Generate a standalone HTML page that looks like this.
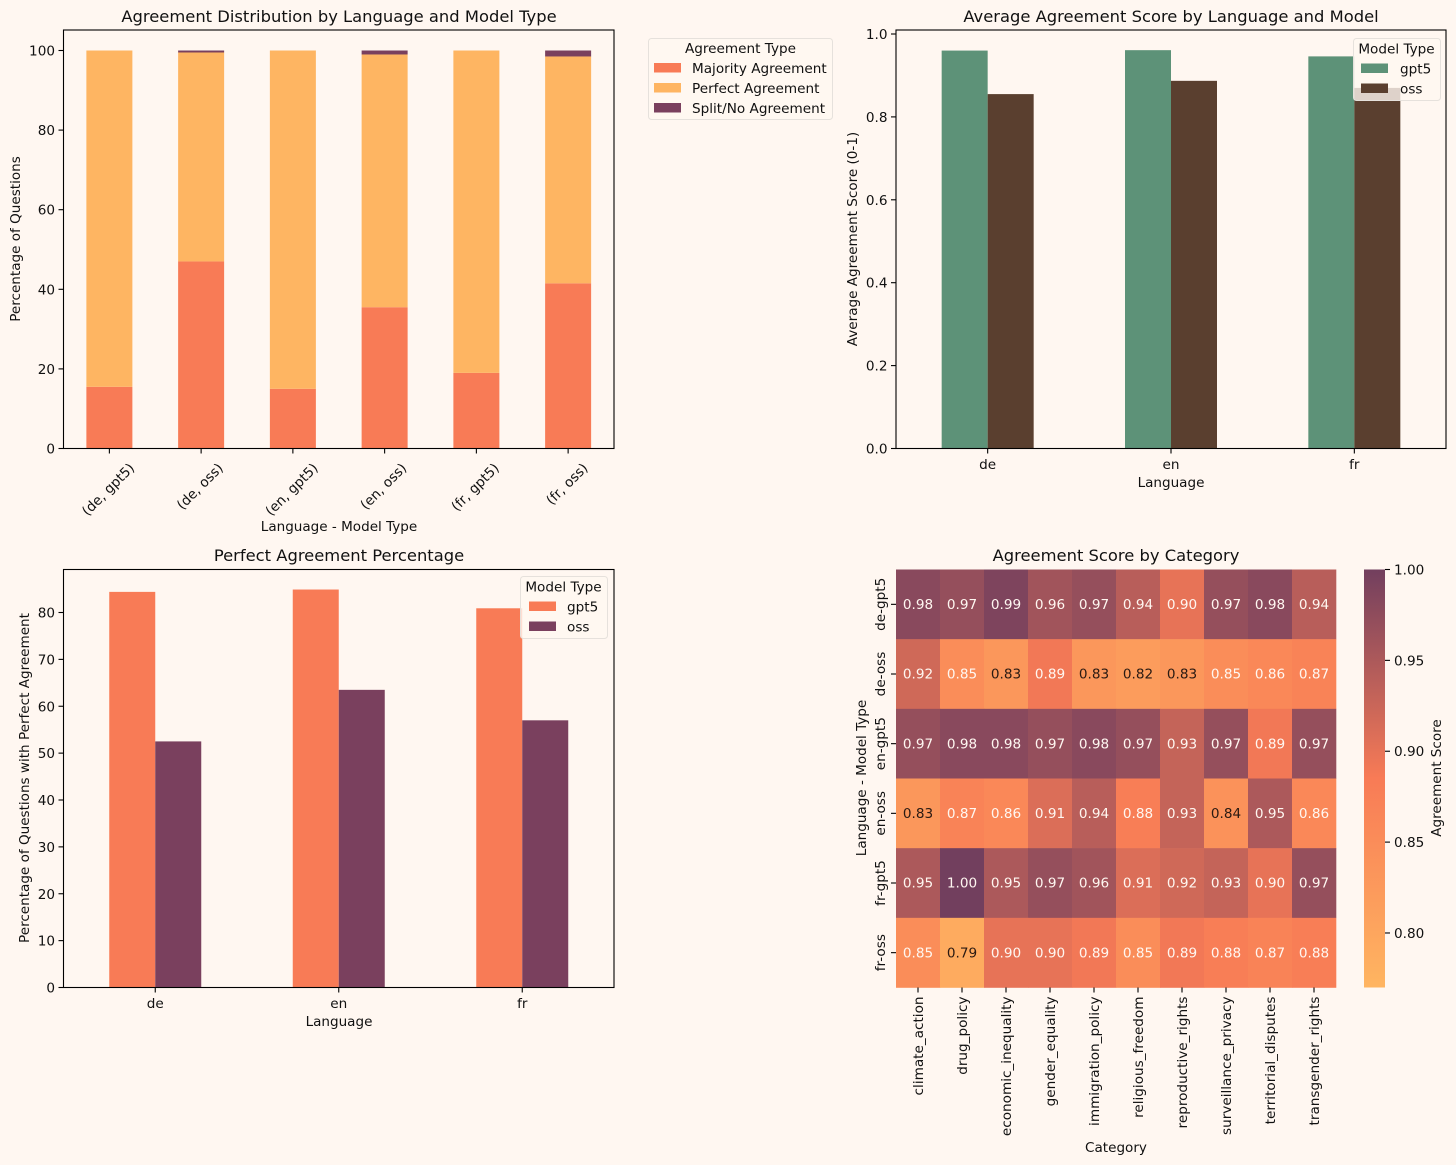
<!DOCTYPE html>
<html lang="en">
<head>
<meta charset="utf-8">
<title>Agreement charts</title>
<style>
html,body{margin:0;padding:0;background:#FFF7F1;}
svg{display:block;}
text{font-family:"DejaVu Sans","Liberation Sans",sans-serif;fill:#111;}
.tick{font-size:13.6px;}
.lab{font-size:13.55px;}
.title{font-size:16.35px;}
.leg{font-size:13.6px;}
.cell{font-size:13.6px;}
</style>
</head>
<body>
<svg id="fig" xmlns="http://www.w3.org/2000/svg" width="1456" height="1165" viewBox="0 0 1456 1165">
  <defs>
    <linearGradient id="cbar-grad" x1="0" y1="1" x2="0" y2="0">
      <stop offset="0" stop-color="#FFB561"/>
      <stop offset="0.5" stop-color="#F87B56"/>
      <stop offset="1" stop-color="#723F5E"/>
    </linearGradient>
  </defs>
  <rect x="0" y="0" width="1456" height="1165" fill="#FFF7F1"/>

  <g id="panel-a"></g>
  <g id="panel-b"></g>
  <g id="panel-c"></g>
  <g id="panel-d"></g>

  <text class="title" x="339" y="22" text-anchor="middle">Agreement Distribution by Language and Model Type</text>
  <text class="lab" x="339" y="531" text-anchor="middle">Language - Model Type</text>
  <text class="lab" text-anchor="middle" transform="translate(20,239) rotate(-90)">Percentage of Questions</text>

  <text class="title" x="1171" y="22" text-anchor="middle">Average Agreement Score by Language and Model</text>
  <text class="lab" x="1171" y="487" text-anchor="middle">Language</text>
  <text class="lab" text-anchor="middle" transform="translate(857,239) rotate(-90)">Average Agreement Score (0-1)</text>

  <text class="title" x="339" y="561" text-anchor="middle">Perfect Agreement Percentage</text>
  <text class="lab" x="339" y="1026" text-anchor="middle">Language</text>
  <text class="lab" text-anchor="middle" transform="translate(29,778) rotate(-90)">Percentage of Questions with Perfect Agreement</text>

  <text class="title" x="1116" y="561" text-anchor="middle">Agreement Score by Category</text>
  <text class="lab" x="1116" y="1152" text-anchor="middle">Category</text>
  <text class="lab" text-anchor="middle" transform="translate(866,778) rotate(-90)">Language - Model Type</text>
  <text class="lab" text-anchor="middle" transform="translate(1441,778) rotate(-90)">Agreement Score</text>

  <g id="legend-a">
    <rect x="648.5" y="38.5" width="184" height="81" rx="3" fill="#FFF7F1" fill-opacity="0.8" stroke="#E6E1DC" stroke-width="1"/>
    <text class="leg" x="740.5" y="53" text-anchor="middle">Agreement Type</text>
    <rect x="654" y="63" width="27" height="9.5" fill="#F87B56"/>
    <text class="leg" x="692" y="73">Majority Agreement</text>
    <rect x="654" y="83" width="27" height="9.5" fill="#FEB562"/>
    <text class="leg" x="692" y="93">Perfect Agreement</text>
    <rect x="654" y="103" width="27" height="9.5" fill="#7A405E"/>
    <text class="leg" x="692" y="113">Split/No Agreement</text>
  </g>
</svg>

<script>
// ---- Panel A: stacked distribution ----
const stackCategories = ["(de, gpt5)", "(de, oss)", "(en, gpt5)", "(en, oss)", "(fr, gpt5)", "(fr, oss)"];
const majorityValues = [15.5, 47, 15, 35.5, 19, 41.5];
const perfectValues = [84.5, 52.5, 85, 63.5, 81, 57];
const splitValues = [0, 0.5, 0, 1, 0, 1.5];
const stackTicks = [0, 20, 40, 60, 80, 100];

// ---- Panel B: average score ----
const languages = ["de", "en", "fr"];
const avgGpt5 = [0.96, 0.961, 0.946];
const avgOss = [0.855, 0.887, 0.87];
const avgTicks = [0, 0.2, 0.4, 0.6, 0.8, 1.0];

// ---- Panel C: perfect agreement ----
const perfectGpt5 = [84.4, 84.9, 80.9];
const perfectOss = [52.5, 63.5, 57];
const perfectTicks = [0, 10, 20, 30, 40, 50, 60, 70, 80];

// ---- Panel D: heatmap ----
const heatCategories = ["climate_action", "drug_policy", "economic_inequality", "gender_equality", "immigration_policy", "religious_freedom", "reproductive_rights", "surveillance_privacy", "territorial_disputes", "transgender_rights"];
const heatRows = ["de-gpt5", "de-oss", "en-gpt5", "en-oss", "fr-gpt5", "fr-oss"];
const heatDeGpt5 = [0.98, 0.97, 0.99, 0.96, 0.97, 0.94, 0.90, 0.97, 0.98, 0.94];
const heatDeOss = [0.92, 0.85, 0.83, 0.89, 0.83, 0.82, 0.83, 0.85, 0.86, 0.87];
const heatEnGpt5 = [0.97, 0.98, 0.98, 0.97, 0.98, 0.97, 0.93, 0.97, 0.89, 0.97];
const heatEnOss = [0.83, 0.87, 0.86, 0.91, 0.94, 0.88, 0.93, 0.84, 0.95, 0.86];
const heatFrGpt5 = [0.95, 1.00, 0.95, 0.97, 0.96, 0.91, 0.92, 0.93, 0.90, 0.97];
const heatFrOss = [0.85, 0.79, 0.90, 0.90, 0.89, 0.85, 0.89, 0.88, 0.87, 0.88];
const colorbarTicks = [0.80, 0.85, 0.90, 0.95, 1.00];

const heatMatrix = [heatDeGpt5, heatDeOss, heatEnGpt5, heatEnOss, heatFrGpt5, heatFrOss];

const NS = "http://www.w3.org/2000/svg";
function mk(parent, tag, attrs, txt) {
  const el = document.createElementNS(NS, tag);
  for (const k in attrs) el.setAttribute(k, attrs[k]);
  if (txt !== undefined) el.textContent = txt;
  parent.appendChild(el);
  return el;
}
function linear(d0, d1, r0, r1) {
  return v => r0 + (v - d0) / (d1 - d0) * (r1 - r0);
}
function frame(parent, x0, x1, y0, y1, name) {
  const el = mk(parent, "rect", { x: x0, y: y0, width: x1 - x0, height: y1 - y0, fill: "none", stroke: "#000", "stroke-width": 1.1 });
  
  
}
function yTick(parent, x, y, label, name) {
  const line = mk(parent, "line", { x1: x - 5, x2: x, y1: y, y2: y, stroke: "#000", "stroke-width": 1.1 });
  
  
  const t = mk(parent, "text", { x: x - 8.5, y: y + 5, "text-anchor": "end", class: "tick" }, label);
  
  
}
function xTickMark(parent, x, y, name) {
  const line = mk(parent, "line", { x1: x, x2: x, y1: y, y2: y + 5, stroke: "#000", "stroke-width": 1.1 });
  
  
}
function bar(parent, cx, w, yTop, yBottom, fill, name) {
  const el = mk(parent, "rect", { x: cx - w / 2, y: yTop, width: w, height: Math.max(0, yBottom - yTop), fill: fill });
  
  
  return el;
}
function legend(parent, box, titleX, swatchX, textX, names, colors, prefix) {
  const bg = mk(parent, "rect", { x: box.x, y: box.y, width: box.w, height: box.h, rx: 3, fill: "#FFF7F1", "fill-opacity": 0.8, stroke: "#E6E1DC", "stroke-width": 1 });
  
  
  const title = mk(parent, "text", { x: titleX, y: box.y + 15, "text-anchor": "middle", class: "leg" }, "Model Type");
  
  
  names.forEach((n, i) => {
    const ry = box.y + 25 + i * 20;
    const sw = mk(parent, "rect", { x: swatchX, y: ry, width: 27, height: 9.5, fill: colors[i] });
    
    
    const t = mk(parent, "text", { x: textX, y: ry + 10, class: "leg" }, n);
    
    
  });
}

// Panel A
(function () {
  const g = document.getElementById("panel-a");
  const L = 63.5, R = 614, T = 30, B = 448.5;
  const step = (R - L) / stackCategories.length;
  const xs = i => L + (i + 0.5) * step;
  const ys = linear(0, 100, 448.5, 50.5);
  stackCategories.forEach((c, i) => {
    const m = majorityValues[i], p = perfectValues[i], s = splitValues[i];
    bar(g, xs(i), 46, ys(m), ys(0), "#F87B56", "bar-majority-" + i);
    bar(g, xs(i), 46, ys(m + p), ys(m), "#FEB562", "bar-perfect-" + i);
    bar(g, xs(i), 46, ys(m + p + s), ys(m + p), "#7A405E", "bar-split-" + i);
    xTickMark(g, xs(i), B, "distribution-x-tick-" + i);
    const t = mk(g, "text", { "text-anchor": "middle", class: "tick" }, c);
    
    
    const len = t.getComputedTextLength();
    const cy = 460 + (len + 15) * 0.7071 / 2;
    t.setAttribute("transform", "translate(" + (xs(i) - 1.5) + "," + cy + ") rotate(-45) translate(0,5)");
  });
  stackTicks.forEach(v => yTick(g, L, ys(v), String(v), "distribution-y-tick-" + v));
  frame(g, L, R, T, B, "distribution-plot-frame");
})();

// Panel B
(function () {
  const g = document.getElementById("panel-b");
  const L = 896, R = 1446, T = 30, B = 448.5;
  const step = (R - L) / languages.length;
  const xs = i => L + (i + 0.5) * step;
  const ys = linear(0, 1, 448.5, 34);
  languages.forEach((lang, i) => {
    bar(g, xs(i) - 23, 46, ys(avgGpt5[i]), ys(0), "#5D9278", "bar-avg-gpt5-" + lang);
    bar(g, xs(i) + 23, 46, ys(avgOss[i]), ys(0), "#5A3F2F", "bar-avg-oss-" + lang);
    xTickMark(g, xs(i), B, "average-score-x-tick-" + lang);
    const t = mk(g, "text", { x: xs(i), y: B + 20.5, "text-anchor": "middle", class: "tick" }, lang);
    
    
  });
  avgTicks.forEach(v => yTick(g, L, ys(v), v.toFixed(1), "average-score-y-tick-" + v));
  frame(g, L, R, T, B, "average-score-plot-frame");
  legend(g, { x: 1353.5, y: 38.5, w: 87, h: 62 }, 1396.5, 1361, 1400, ["gpt5", "oss"], ["#5D9278", "#5A3F2F"], "average-score");
})();

// Panel C
(function () {
  const g = document.getElementById("panel-c");
  const L = 63.5, R = 614, T = 569.5, B = 987.5;
  const step = (R - L) / languages.length;
  const xs = i => L + (i + 0.5) * step;
  const ys = linear(0, 80, 987.5, 612.5);
  languages.forEach((lang, i) => {
    bar(g, xs(i) - 23, 46, ys(perfectGpt5[i]), ys(0), "#F87B56", "bar-perfect-gpt5-" + lang);
    bar(g, xs(i) + 23, 46, ys(perfectOss[i]), ys(0), "#7A405E", "bar-perfect-oss-" + lang);
    xTickMark(g, xs(i), B, "perfect-agreement-x-tick-" + lang);
    const t = mk(g, "text", { x: xs(i), y: B + 20.5, "text-anchor": "middle", class: "tick" }, lang);
    
    
  });
  perfectTicks.forEach(v => yTick(g, L, ys(v), String(v), "perfect-agreement-y-tick-" + v));
  frame(g, L, R, T, B, "perfect-agreement-plot-frame");
  legend(g, { x: 520.5, y: 576.5, w: 87, h: 62 }, 563.5, 529, 567, ["gpt5", "oss"], ["#F87B56", "#7A405E"], "perfect-agreement");
})();

// Panel D
function heatColor(v) {
  const vmin = 0.77, vmax = 1.0;
  const t = Math.min(1, Math.max(0, (v - vmin) / (vmax - vmin)));
  const a = [255, 181, 97], b = [248, 123, 86], c = [114, 63, 94];
  const mix = (p, q, u) => p.map((x, i) => Math.round(x + (q[i] - x) * u));
  const rgb = t < 0.5 ? mix(a, b, t / 0.5) : mix(b, c, (t - 0.5) / 0.5);
  return "rgb(" + rgb.join(",") + ")";
}
(function () {
  const g = document.getElementById("panel-d");
  const L = 896, R = 1336, T = 569.5, B = 987.5;
  const cw = (R - L) / heatCategories.length;
  const ch = (B - T) / heatRows.length;
  heatMatrix.forEach((row, r) => {
    row.forEach((v, c) => {
      const cell = mk(g, "rect", { x: L + c * cw, y: T + r * ch, width: cw + 0.3, height: ch + 0.3, fill: heatColor(v) });
      
      
      const t = mk(g, "text", { x: L + (c + 0.5) * cw, y: T + (r + 0.5) * ch + 4.6, "text-anchor": "middle", class: "cell", style: "fill:" + (v < 0.845 ? "#2a1a12" : "#FFF7F1") }, v.toFixed(2));
      
      
    });
  });
  heatRows.forEach((name, r) => {
    const y = T + (r + 0.5) * ch;
    const line = mk(g, "line", { x1: L - 5, x2: L, y1: y, y2: y, stroke: "#000", "stroke-width": 1.1 });
    
    
    const t = mk(g, "text", { "text-anchor": "middle", class: "tick", transform: "translate(885," + y + ") rotate(-90)" }, name);
    
    
  });
  heatCategories.forEach((name, c) => {
    const x = L + (c + 0.5) * cw;
    xTickMark(g, x, B, "heatmap-x-tick-" + name);
    const t = mk(g, "text", { "text-anchor": "end", class: "tick", transform: "translate(" + (x + 4.8) + ",996.5) rotate(-90)" }, name);
    
    
  });
  // Colorbar
  const bx = 1364, bw = 21;
  const cb = mk(g, "rect", { x: bx, y: T, width: bw, height: B - T, fill: "url(#cbar-grad)" });
  
  
  const yc = linear(0.77, 1.0, B, T);
  colorbarTicks.forEach(v => {
    const y = yc(v);
    const line = mk(g, "line", { x1: bx + bw, x2: bx + bw + 5, y1: y, y2: y, stroke: "#000", "stroke-width": 1.1 });
    
    
    const t = mk(g, "text", { x: bx + bw + 9, y: y + 5, class: "tick" }, v.toFixed(2));
    
    
  });
})();
</script>
</body>
</html>
